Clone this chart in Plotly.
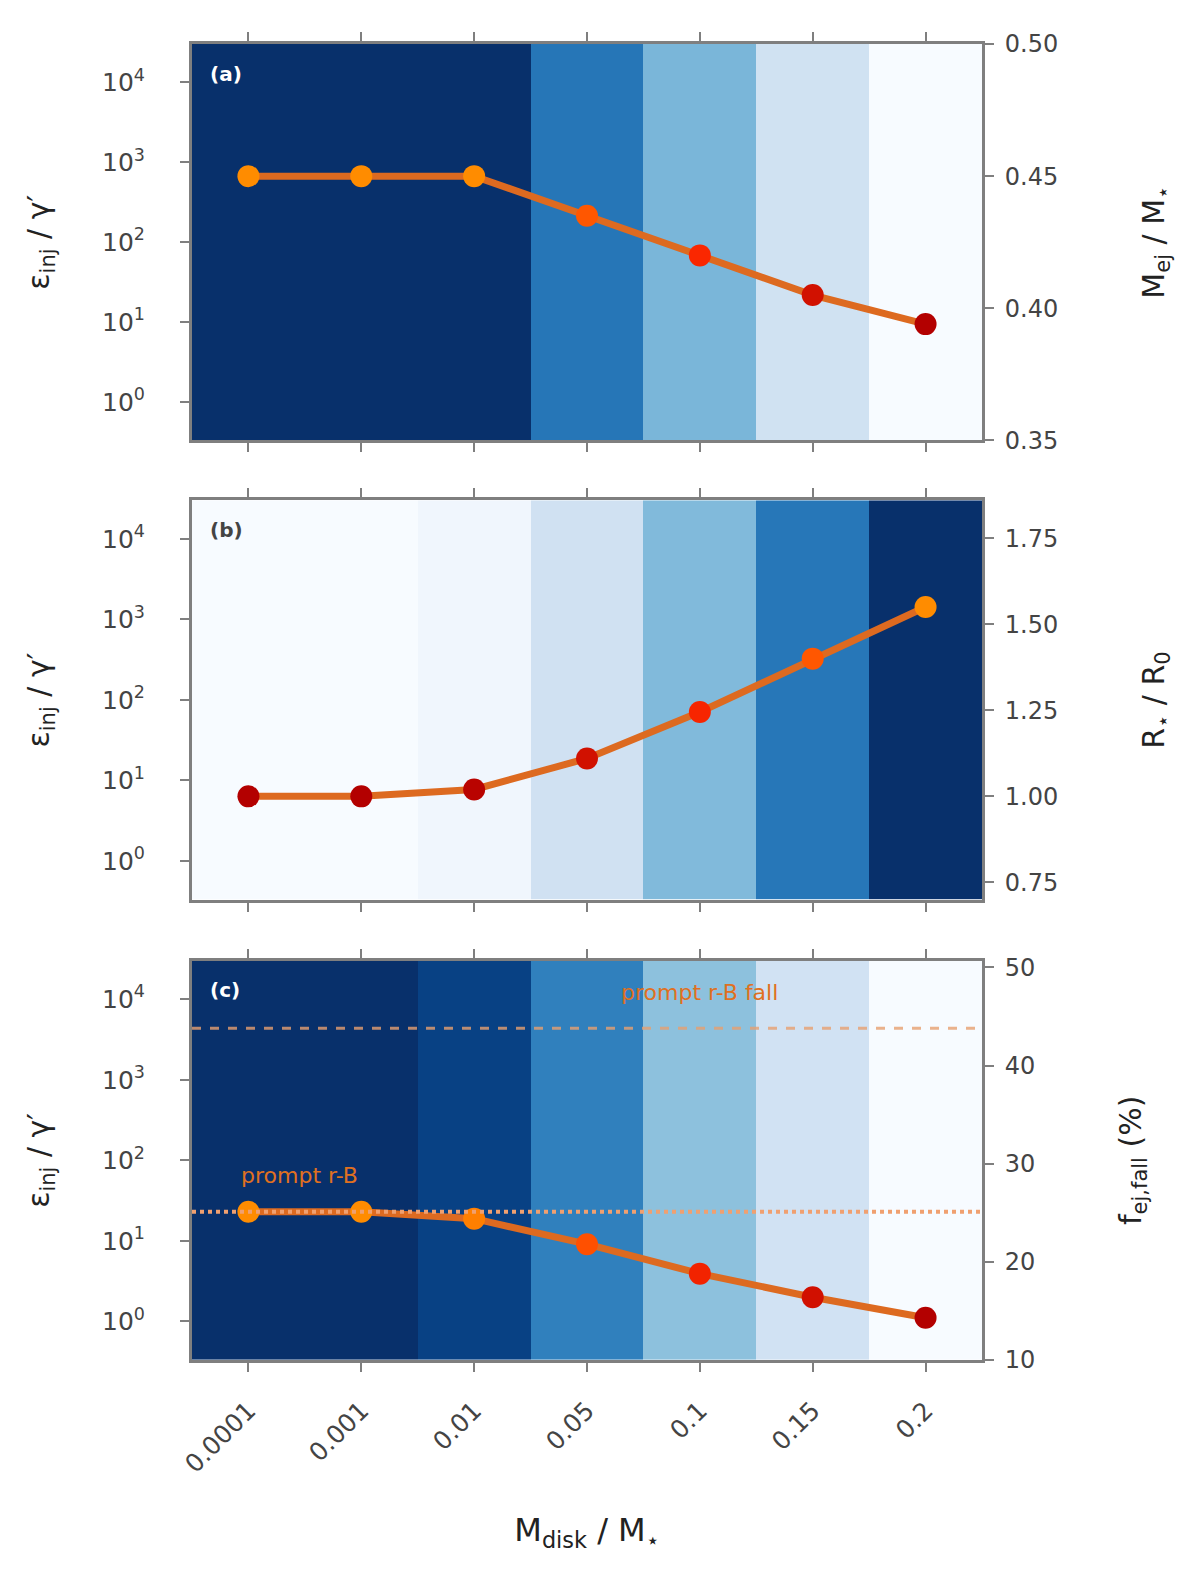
import plotly.graph_objects as go

# ---------------- data ----------------
x_labels = ["0.0001", "0.001", "0.01", "0.05", "0.1", "0.15", "0.2"]

ejecta_ratio = [0.450, 0.450, 0.450, 0.435, 0.420, 0.405, 0.394]      # panel (a)
radius_ratio = [1.00, 1.00, 1.02, 1.11, 1.245, 1.40, 1.55]           # panel (b)
fraction_pct = [25.1, 25.1, 24.4, 21.8, 18.8, 16.4, 14.3]            # panel (c)

ref_prompt = 25.1        # dotted reference line, panel (c)
ref_prompt_fall = 43.8   # dashed reference line, panel (c)

left_ticktext = ["10<sup>4</sup>", "10<sup>3</sup>", "10<sup>2</sup>", "10<sup>1</sup>", "10<sup>0</sup>"]
right_ticks_a = [0.35, 0.40, 0.45, 0.50]
right_ticks_b = [0.75, 1.00, 1.25, 1.50, 1.75]
right_ticks_c = [10, 20, 30, 40, 50]

panel_letters = ["(a)", "(b)", "(c)"]
right_titles = ["M<sub>ej</sub> / M<sub>⋆</sub>", "R<sub>⋆</sub> / R<sub>0</sub>", "f<sub>ej,fall</sub> (%)"]
left_title = "ε<sub>inj</sub> / γ′"
x_title = "M<sub>disk</sub> / M<sub>⋆</sub>"

# ---------------- figure ----------------
FONT = "DejaVu Sans"
GRAY = "#7f7f7f"
TXT = "#444444"
n = len(x_labels)
xi = list(range(n))
x_edges = [i - 0.5 for i in range(n + 1)]
left_lo, left_hi = -0.48, 4.48
left_vals = [4, 3, 2, 1, 0]

marker_scale = [[0, "#b30000"], [0.5, "#ff2a00"], [1, "#ff8c00"]]

series = [ejecta_ratio, radius_ratio, fraction_pct]
right_ranges = [[0.35, 0.50], [0.70, 1.86], [10, 50.7]]
right_ticks = [right_ticks_a, right_ticks_b, right_ticks_c]
right_fmt = [".2f", ".2f", "d"]
domains = [[0.6988, 1.0], [0.3498, 0.6533], [0.0, 0.3035]]
letter_colors = ["white", TXT, "white"]

fig = go.Figure()
layout = dict(
    width=1200, height=1572,
    margin=dict(l=184, r=226, t=36, b=220),
    paper_bgcolor="white", plot_bgcolor="white",
    showlegend=False,
    font=dict(family=FONT, color=TXT, size=20),
)

for p in range(3):
    xa = "x" if p == 0 else f"x{p+1}"
    yl = f"y{2*p+1}" if p > 0 else "y"
    yr = f"y{2*p+2}"
    vals = series[p]
    # background bands
    fig.add_trace(go.Heatmap(
        z=[vals], x=x_edges, y=[left_lo, left_hi],
        colorscale="Blues", zmin=min(vals), zmax=max(vals),
        showscale=False, xaxis=xa, yaxis=yl, hoverinfo="skip"))
    # data line
    fig.add_trace(go.Scatter(
        x=xi, y=vals, mode="lines+markers", xaxis=xa, yaxis=yr,
        line=dict(color="#dd6a20", width=7),
        marker=dict(size=22, color=vals, colorscale=marker_scale,
                    cmin=min(vals), cmax=max(vals), line=dict(width=0))))

    xkey = "xaxis" if p == 0 else f"xaxis{p+1}"
    ylkey = "yaxis" if p == 0 else f"yaxis{2*p+1}"
    yrkey = f"yaxis{2*p+2}"
    layout[xkey] = dict(
        domain=[0, 1], anchor=yl, range=[-0.5, n - 0.5],
        tickvals=xi, ticktext=x_labels, showticklabels=(p == 2),
        tickangle=-45, tickfont=dict(size=25, color=TXT),
        ticks="outside", ticklen=9, tickwidth=2, tickcolor=GRAY,
        ticklabelstandoff=14,
        showline=True, linecolor=GRAY, linewidth=3, mirror="ticks",
        showgrid=False, zeroline=False,
    )
    if p > 0:
        layout[xkey]["matches"] = "x"
    if p == 2:
        layout[xkey]["title"] = dict(text=x_title, font=dict(size=32, color="#222222"), standoff=42)
    layout[ylkey] = dict(
        domain=domains[p], anchor=xa, range=[left_lo, left_hi],
        tickvals=left_vals, ticktext=left_ticktext,
        tickfont=dict(size=25, color=TXT),
        ticks="outside", ticklen=9, tickwidth=2, tickcolor=GRAY,
        ticklabelstandoff=30,
        showline=True, linecolor=GRAY, linewidth=3,
        showgrid=False, zeroline=False,
        title=dict(text=left_title, font=dict(size=30, color="#222222"), standoff=44),
    )
    layout[yrkey] = dict(
        overlaying=yl, side="right", anchor=xa, range=right_ranges[p],
        tickvals=right_ticks[p], tickformat=right_fmt[p],
        tickfont=dict(size=24, color=TXT),
        ticks="outside", ticklen=9, tickwidth=2, tickcolor=GRAY,
        ticklabelstandoff=6,
        showline=True, linecolor=GRAY, linewidth=3,
        showgrid=False, zeroline=False,
        title=dict(text=right_titles[p], font=dict(size=30, color="#222222"), standoff=86),
    )

# reference lines in panel (c)
fig.add_trace(go.Scatter(x=[-0.5, n - 0.5], y=[ref_prompt, ref_prompt], mode="lines",
                         xaxis="x3", yaxis="y6",
                         line=dict(color="#f0a070", width=4, dash="dot")))
fig.add_trace(go.Scatter(x=[-0.5, n - 0.5], y=[ref_prompt_fall, ref_prompt_fall], mode="lines",
                         xaxis="x3", yaxis="y6",
                         line=dict(color="#e8a070", width=3, dash="dash"), opacity=0.8))

fig.update_layout(**layout)

annotations = []
for p in range(3):
    annotations.append(dict(
        xref="paper", yref="paper", x=0.02, y=domains[p][1] - 0.012,
        xanchor="left", yanchor="top", text="<b>" + panel_letters[p] + "</b>", showarrow=False,
        font=dict(size=20, color=letter_colors[p], family=FONT)))
annotations.append(dict(xref="x3", yref="y6", x=4.0, y=ref_prompt_fall + 2.2,
                        text="prompt r-B fall", showarrow=False, yanchor="bottom",
                        font=dict(size=22, color="#e07020", family=FONT)))
annotations.append(dict(xref="x3", yref="y6", x=0.45, y=ref_prompt + 2.2,
                        text="prompt r-B", showarrow=False, yanchor="bottom",
                        font=dict(size=22, color="#e07020", family=FONT)))
fig.update_layout(annotations=annotations)

fig.write_html("out.html")
